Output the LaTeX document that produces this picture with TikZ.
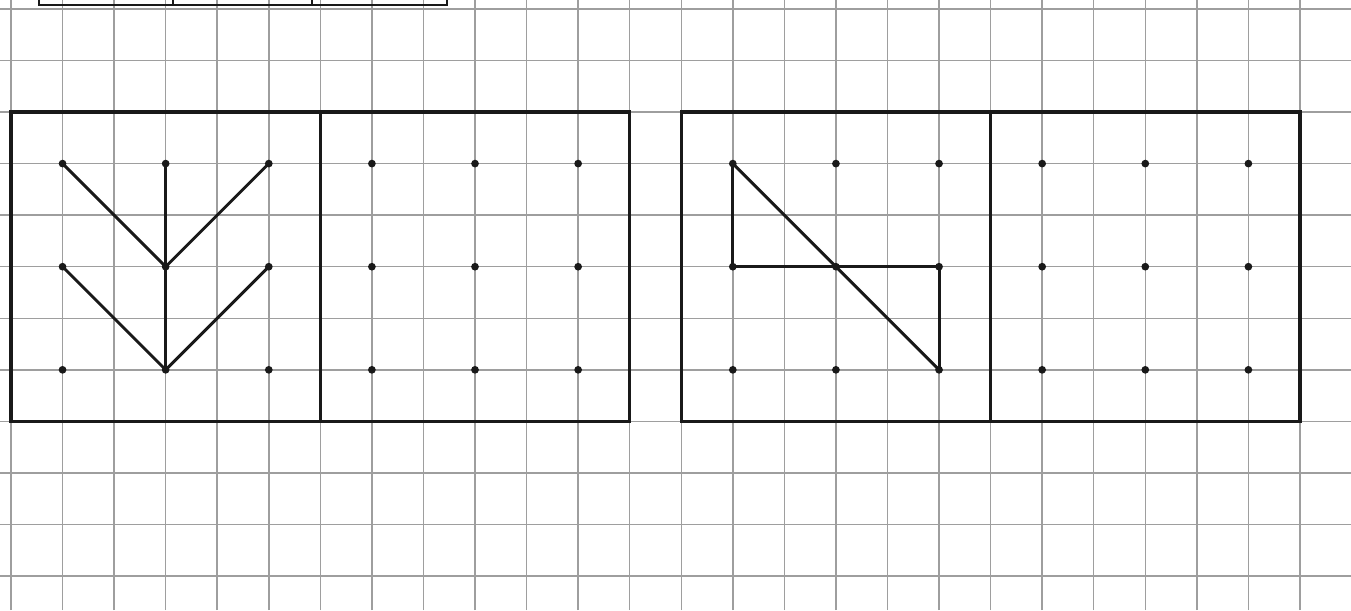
\documentclass[tikz,border=0pt]{standalone}
\usetikzlibrary{positioning}

\begin{document}
\begin{tikzpicture}[
    gridline/.style={black!38, line width=0.8pt},
    frame/.style={black!90, line width=1.7pt},
    figline/.style={black!90, line width=1.6pt, line cap=round, line join=round},
    dot/.style={circle, fill=black!90, inner sep=0pt, minimum size=1.5mm}
]

\useasboundingbox (-0.213,-9.66) rectangle (25.99,2.173);
\clip (-0.213,-9.66) rectangle (25.99,2.173);

% squared paper
\draw[gridline] (-0.213,-9.66) grid (25.99,2.173);

% table cut off at the top
\draw[frame, line width=1.1pt] (0.54,3) -- (0.54,2.076) -- (8.46,2.076) -- (8.46,3);
\draw[frame, line width=1.1pt] (3.14,2.076) -- (3.14,3);
\draw[frame, line width=1.1pt] (5.84,2.076) -- (5.84,3);

% frames
\draw[frame] (0,0) rectangle (12,-6);
\draw[frame] (6,0) -- (6,-6);
\draw[frame] (13,0) rectangle (25,-6);
\draw[frame] (19,0) -- (19,-6);

% dots
\foreach \b/\x in {a/0,b/6,c/13,d/19}
  \foreach \i in {1,2,3}
    \foreach \j in {1,2,3}
      \node[dot] (\b\i\j) at ({\x+2*\i-1},{1-2*\j}) {};

% first pattern
\draw[figline] (a11.center) -- (a22.center) -- (a31.center);
\draw[figline] (a12.center) -- (a23.center) -- (a32.center);
\draw[figline] (a21.center) -- (a23.center);

% second pattern
\draw[figline] (c11.center) -- (c33.center);
\draw[figline] (c11.center) -- (c12.center) -- (c32.center) -- (c33.center);

\end{tikzpicture}
\end{document}
